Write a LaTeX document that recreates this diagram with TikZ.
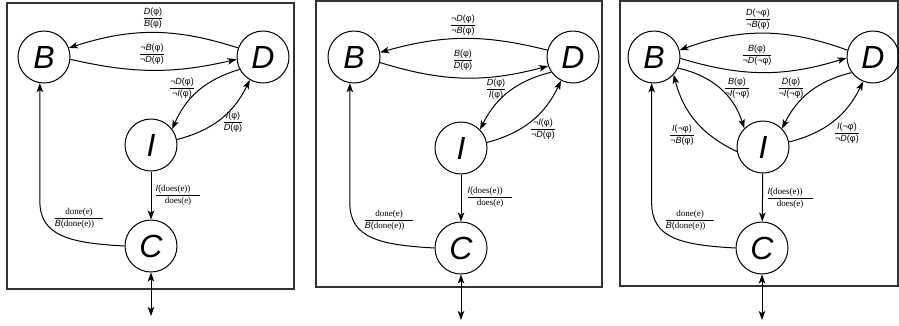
\documentclass[tikz,border=0pt]{standalone}
\usepackage{fontspec}
\setmainfont{Liberation Sans}
\newfontfamily\rmserif{Liberation Serif}
\usetikzlibrary{arrows.meta,calc}

% stacked transition label: trigger over action
\newcommand{\fr}[2]{$\displaystyle\frac{\hbox{#1}}{\hbox{#2}}$}
\newcommand{\ti}[1]{\textit{#1}}

\begin{document}
\begin{tikzpicture}[x=1pt,y=-1pt,line width=1pt,
  >={Stealth[length=9pt,width=6.5pt,inset=2.2pt]},
  state/.style={circle,draw,minimum size=52pt,inner sep=0pt,
    font=\fontsize{32}{32}\selectfont\itshape},
  lab/.style={inner sep=0pt,font=\fontsize{9}{10}\selectfont},
  frame/.style={draw=black!80,line width=1.3pt}]
\useasboundingbox (0,0) rectangle (899,325);

% ---------- first panel ----------
\draw[frame] (7,3) rectangle (294,289);
\node[state] (B1) at (44,57) {B};
\node[state] (D1) at (263,57) {D};
\node[state] (I1) at (151,145) {I};
\node[state] (C1) at (151,246) {C};
\coordinate (E1) at (151,316);
\draw[->] (D1.160) to[bend right=18] (B1.20);
\draw[->] (B1.-5) to[bend right=13] (D1.185);
\draw[->] (D1.208) to[bend right=25] (I1.37);
\draw[->] (I1.12) to[bend right=25] (D1.-120);
\draw[->] (I1) -- (C1);
\draw[<->] (C1) -- (E1);
\draw[->] (C1.west) .. controls +(-55,-3) and +(0,35) .. ($(B1.-99|-C1.west)+(0,-45)$) -- (B1.-99);
\node[lab] (t1) at (153,18) {\fr{\ti{D}(φ)}{\ti{B}(φ)}};
\node[lab] (m1) at (152,54) {\fr{¬\ti{B}(φ)}{¬\ti{D}(φ)}};
\node[lab] (di1) at (182,88) {\fr{¬\ti{D}(φ)}{¬\ti{I}(φ)}};
\node[lab] (id1) at (233,122) {\fr{\ti{I}(φ)}{\ti{D}(φ)}};
\node[lab] (ic1) at (178,195) {\fr{\ti{I}(\rmserif does(e))\hspace{10pt}}{\rmserif does(e)}};
\node[lab] (cb1) at (79,218) {\fr{\rmserif done(e)}{\ti{B}(\rmserif done(e))\hspace{9pt}}};

% ---------- second panel ----------
\draw[frame] (316,1) rectangle (602,287);
\node[state] (B2) at (354,57) {B};
\node[state] (D2) at (573,57) {D};
\node[state] (I2) at (461,148) {I};
\node[state] (C2) at (461,248) {C};
\coordinate (E2) at (461,320);
\draw[->] (D2.165) to[bend right=15] (B2.10);
\draw[->] (B2.-12) to[bend right=16] (D2.200);
\draw[->] (D2.215) to[bend right=25] (I2.44);
\draw[->] (I2.12) to[bend right=25] (D2.-117);
\draw[->] (I2) -- (C2);
\draw[<->] (C2) -- (E2);
\draw[->] (C2.west) .. controls +(-55,-3) and +(0,35) .. ($(B2.-99|-C2.west)+(0,-45)$) -- (B2.-99);
\node[lab] (t2) at (463,25) {\fr{¬\ti{D}(φ)}{¬\ti{B}(φ)}};
\node[lab] (m2) at (463,60) {\fr{\ti{B}(φ)}{\ti{D}(φ)}};
\node[lab] (di2) at (496,89) {\fr{\ti{D}(φ)}{\ti{I}(φ)}};
\node[lab] (id2) at (543,129) {\fr{¬\ti{I}(φ)}{¬\ti{D}(φ)}};
\node[lab] (ic2) at (490,197) {\fr{\ti{I}(\rmserif does(e))\hspace{10pt}}{\rmserif does(e)}};
\node[lab] (cb2) at (389,220) {\fr{\rmserif done(e)}{\ti{B}(\rmserif done(e))\hspace{9pt}}};

% ---------- third panel ----------
\draw[frame] (620,1) rectangle (898,286);
\node[state] (B3) at (654,57) {B};
\node[state] (D3) at (873,57) {D};
\node[state] (I3) at (763,147) {I};
\node[state] (C3) at (762,248) {C};
\coordinate (E3) at (762,320);
\draw[->] (D3.165) to[bend right=20] (B3.15);
\draw[->] (B3.-3) to[bend right=17] (D3.182);
\draw[->] (B3.-25) to[bend left=30] (I3.135);
\draw[->] (I3.190) to[bend left=25] (B3.-42);
\draw[->] (D3.216) to[bend right=25] (I3.44);
\draw[->] (I3.11) to[bend right=25] (D3.-112);
\draw[->] (I3) -- (C3);
\draw[<->] (C3) -- (E3);
\draw[->] (C3.west) .. controls +(-55,-3) and +(0,35) .. ($(B3.-95|-C3.west)+(0,-45)$) -- (B3.-95);
\node[lab] (t3) at (758,19) {\fr{\ti{D}(¬φ)}{¬\ti{B}(φ)}};
\node[lab] (m3) at (757,55) {\fr{\ti{B}(φ)}{¬\ti{D}(¬φ)}};
\node[lab] (bi3) at (737,88) {\fr{\ti{B}(φ)}{¬\ti{I}(¬φ)}};
\node[lab] (di3) at (791,88) {\fr{\ti{D}(φ)}{¬\ti{I}(¬φ)}};
\node[lab] (ib3) at (682,135) {\fr{\ti{I}(¬φ)}{¬\ti{B}(φ)}};
\node[lab] (id3) at (847,133) {\fr{\ti{I}(¬φ)}{¬\ti{D}(φ)}};
\node[lab] (ic3) at (790,198) {\fr{\ti{I}(\rmserif does(e))\hspace{10pt}}{\rmserif does(e)}};
\node[lab] (cb3) at (690,220) {\fr{\rmserif done(e)}{\ti{B}(\rmserif done(e))\hspace{9pt}}};
\end{tikzpicture}
\end{document}
